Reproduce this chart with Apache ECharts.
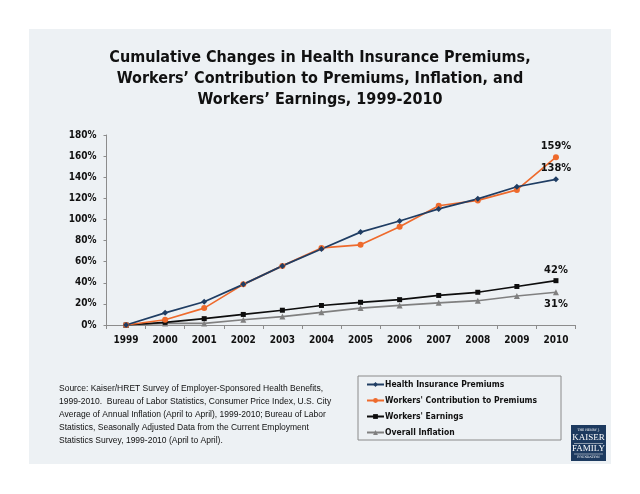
<!DOCTYPE html>
<html><head><meta charset="utf-8">
<script src="https://cdn.jsdelivr.net/npm/echarts@6/dist/echarts.min.js"></script>
<style>html,body{margin:0;padding:0;background:#fff}#c{width:640px;height:494px}</style>
</head><body><div id="c"></div>
<script>
const years = ['1999','2000','2001','2002','2003','2004','2005','2006','2007','2008','2009','2010'];
const premiums = [0, 11.5, 22, 38.5, 56, 72, 88, 98.5, 110, 119.5, 131, 138];
const contributions = [0, 5, 16, 38.5, 56, 73, 76, 93, 113, 118, 128, 159];
const earnings = [0, 2.5, 6, 10, 14, 18.5, 21.5, 24, 28, 31, 36.5, 42];
const inflation = [0, 1.5, 1.5, 5, 8, 12, 16, 18.5, 21, 23, 27.5, 31];
const endLabels = ['159%', '138%', '42%', '31%'];
const yTicks = [0, 20, 40, 60, 80, 100, 120, 140, 160, 180];
const titleLines = ['Cumulative Changes in Health Insurance Premiums,', 'Workers\u2019 Contribution to Premiums, Inflation, and', 'Workers\u2019 Earnings, 1999-2010'];
const sourceLines = ['Source: Kaiser/HRET Survey of Employer-Sponsored Health Benefits,', '1999-2010.  Bureau of Labor Statistics, Consumer Price Index, U.S. City', 'Average of Annual Inflation (April to April), 1999-2010; Bureau of Labor', 'Statistics, Seasonally Adjusted Data from the Current Employment', 'Statistics Survey, 1999-2010 (April to April).'];

const F = '"DejaVu Sans Condensed", "DejaVu Sans", sans-serif';
const chart = echarts.init(document.getElementById('c'));

function withEnd(arr, label, pos) {
  return arr.map((v, i) => i === arr.length - 1 ? {value: v, label: {show: true, position: pos, formatter: label, fontFamily: F, fontWeight: 'bold', fontSize: 11, color: '#111', distance: 3}} : v);
}

const series = [
  {name: 'Health Insurance Premiums', data: withEnd(premiums, endLabels[1], 'top'), color: '#1f3d63', symbol: 'diamond', symbolSize: 6},
  {name: 'Workers\' Contribution to Premiums', data: withEnd(contributions, endLabels[0], 'top'), color: '#ee6a2c', symbol: 'circle', symbolSize: 6},
  {name: 'Workers\' Earnings', data: withEnd(earnings, endLabels[2], 'top'), color: '#0d0d0d', symbol: 'rect', symbolSize: 5},
  {name: 'Overall Inflation', data: withEnd(inflation, endLabels[3], 'bottom'), color: '#808080', symbol: 'triangle', symbolSize: 6}
].map(s => Object.assign({type: 'line', lineStyle: {width: 1.7}, itemStyle: {color: s.color}, showSymbol: true, animation: false, z: 3}, s));
series.reverse();

chart.setOption({
  animation: false,
  backgroundColor: '#fff',
  graphic: [
    {type: 'rect', shape: {x: 29, y: 29, width: 582, height: 435}, style: {fill: '#edf1f4'}, z: -10},
    {type: 'rect', shape: {x: 358, y: 376, width: 203, height: 64}, style: {fill: 'none', stroke: '#8a8a8a', lineWidth: 1}, z: 1},
    {type: 'text', left: 59, top: 382, style: {text: sourceLines.join('\n'), font: '8.5px "Liberation Sans Narrow", "Liberation Sans", sans-serif', fill: '#111', lineHeight: 13}},
    {type: 'group', left: 571, top: 425, children: [
      {type: 'rect', shape: {x: 0, y: 0, width: 35, height: 36}, style: {fill: '#1d3a5f'}},
      {type: 'text', x: 17.5, y: 4, style: {text: 'THE HENRY J.', font: '3px "DejaVu Serif", serif', fill: '#fff', align: 'center'}},
      {type: 'text', x: 17.5, y: 8.5, style: {text: 'KAISER', font: '9px "Liberation Serif", serif', fill: '#fff', align: 'center'}},
      {type: 'line', shape: {x1: 3, y1: 18.5, x2: 32, y2: 18.5}, style: {stroke: '#fff', lineWidth: 0.5}},
      {type: 'text', x: 17.5, y: 19, style: {text: 'FAMILY', font: '9px "Liberation Serif", serif', fill: '#fff', align: 'center'}},
      {type: 'line', shape: {x1: 3, y1: 29, x2: 32, y2: 29}, style: {stroke: '#fff', lineWidth: 0.5}},
      {type: 'text', x: 17.5, y: 30.5, style: {text: 'FOUNDATION', font: '3px "DejaVu Serif", serif', fill: '#fff', align: 'center'}}
    ]}
  ],
  title: {
    text: titleLines.join('\n'), left: 'center', top: 42,
    textStyle: {fontFamily: F, fontWeight: 'bold', fontSize: 16, color: '#111', lineHeight: 21}
  },
  legend: {
    orient: 'vertical', left: 366, top: 380, padding: 0, itemWidth: 17, itemHeight: 6, itemGap: 7,
    data: ['Health Insurance Premiums', 'Workers\' Contribution to Premiums', 'Workers\' Earnings', 'Overall Inflation'],
    textStyle: {fontFamily: F, fontWeight: 'bold', fontSize: 8.5, color: '#111', padding: [0, 0, 0, -4]}
  },
  grid: {left: 106.5, right: 64.5, top: 135, bottom: 169, containLabel: false},
  xAxis: {
    type: 'category', data: years, boundaryGap: true,
    axisLine: {lineStyle: {color: '#8c8c8c', width: 1}},
    axisTick: {show: true, length: 4, lineStyle: {color: '#8c8c8c'}},
    axisLabel: {fontFamily: F, fontWeight: 'bold', fontSize: 10, color: '#111', margin: 10}
  },
  yAxis: {
    type: 'value', min: 0, max: 180, interval: 20,
    axisLine: {show: true, lineStyle: {color: '#8c8c8c', width: 1}},
    axisTick: {show: true, length: 3, lineStyle: {color: '#8c8c8c'}},
    splitLine: {show: false},
    axisLabel: {fontFamily: F, fontWeight: 'bold', fontSize: 10, color: '#111', margin: 10, formatter: v => yTicks.includes(v) ? v + '%' : ''}
  },
  series: series
});
</script></body></html>
